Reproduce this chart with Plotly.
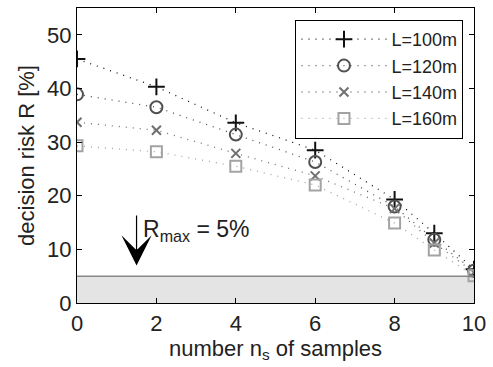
import plotly.graph_objects as go

samples = [0, 2, 4, 6, 8, 9, 10]
labels = ["L=100m", "L=120m", "L=140m", "L=160m"]
risk_100 = [45.5, 40.3, 33.6, 28.5, 19.3, 13.0, 6.3]
risk_120 = [38.9, 36.5, 31.4, 26.3, 18.0, 11.8, 6.0]
risk_140 = [33.7, 32.2, 27.9, 23.7, 17.6, 11.2, 5.7]
risk_160 = [29.3, 28.2, 25.5, 22.0, 14.9, 9.9, 5.1]
r_max = 5

series = [risk_100, risk_120, risk_140, risk_160]
colors = ["#111111", "#505050", "#707070", "#a3a3a3"]
symbols = ["cross-thin-open", "circle-open", "x-thin-open", "square-open"]
sizes = [12, 12, 9, 11]

TXT = "#222222"
fig = go.Figure()
fig.add_shape(type="rect", xref="x", yref="y", x0=0, x1=10, y0=0, y1=r_max,
              fillcolor="#e4e4e4", line=dict(width=0), layer="below")
fig.add_shape(type="line", xref="x", yref="y", x0=0, x1=10, y0=r_max, y1=r_max,
              line=dict(color="#888888", width=1.5))

for lab, ys, c, s, sz in zip(labels, series, colors, symbols, sizes):
    fig.add_trace(go.Scatter(
        x=samples, y=ys, name=lab, mode="lines+markers",
        line=dict(color=c, width=1.3, dash="1px,6px"),
        marker=dict(symbol=s, size=sz, color=c, line=dict(color=c, width=2)),
    ))

fig.add_annotation(x=1.5, y=7, ax=1.5, ay=16.6, xref="x", yref="y", axref="x", ayref="y",
                   text="", showarrow=True, arrowhead=3, arrowsize=4.2, arrowwidth=1.2,
                   arrowcolor="black")
fig.add_annotation(x=1.6, y=13.6, xref="x", yref="y", xanchor="left", yanchor="middle",
                   text="R<sub>max</sub> = 5%", showarrow=False,
                   font=dict(size=23, color=TXT))

axis_common = dict(showgrid=False, zeroline=False, showline=True, linecolor="black",
                   linewidth=1.3, mirror="ticks", ticks="inside", ticklen=5,
                   tickcolor="black", tickfont=dict(size=22, color=TXT))
fig.update_xaxes(range=[0, 10], tickvals=[0, 2, 4, 6, 8, 10],
                 title=dict(text="number n<sub>s</sub> of samples", standoff=2,
                            font=dict(size=22, color=TXT)), **axis_common)
fig.update_yaxes(range=[0, 55], tickvals=[0, 10, 20, 30, 40, 50],
                 title=dict(text="decision risk R [%]", standoff=6,
                            font=dict(size=22, color=TXT)), **axis_common)

fig.update_layout(
    width=493, height=367,
    margin=dict(l=77, r=13, t=7, b=64),
    paper_bgcolor="white", plot_bgcolor="white",
    font=dict(family="Liberation Sans, Arial, sans-serif"),
    legend=dict(x=0.973, y=0.96, xanchor="right", yanchor="top",
                bgcolor="white", bordercolor="black", borderwidth=1.2,
                font=dict(size=18, color=TXT), tracegroupgap=0,
                itemwidth=85),
    showlegend=True,
)

fig.write_html("out.html")
